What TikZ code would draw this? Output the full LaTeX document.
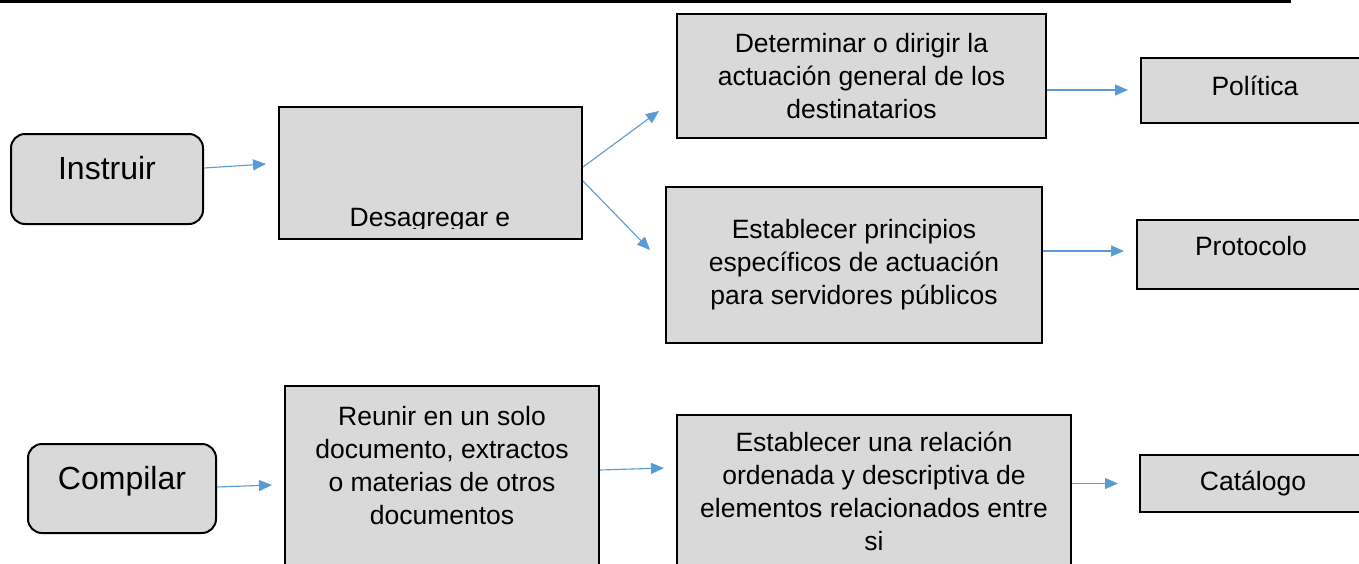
\documentclass[tikz,border=0pt]{standalone}
\usepackage{fontspec}
\setmainfont{Liberation Sans}
\usetikzlibrary{arrows.meta}
\definecolor{boxfill}{HTML}{D9D9D9}
\definecolor{arrblue}{HTML}{5B9BD5}
\tikzset{
  x=1pt, y=1pt,
  box/.style={draw=black, line width=2pt, fill=boxfill, inner sep=0pt, align=center,
    font=\fontsize{26.5}{33}\selectfont},
  rbox/.style={box, rounded corners=14pt, font=\fontsize{32}{36}\selectfont},
  arr/.style={draw=arrblue, line width=1.1pt, -{Triangle[length=13pt,width=11pt]}},
  lbl/.style={inner sep=0pt, font=\fontsize{26.5}{33}\selectfont}
}
\begin{document}
\begin{tikzpicture}
\clip (0,0) rectangle (1359,-563);
\fill[white] (0,0) rectangle (1359,-563);
\coordinate (tl) at (0,-1.5);
\coordinate (tr) at (1291,-1.5);
\draw[line width=3pt, black] (tl) -- (tr);

% nodes
\node[rbox, minimum width=192, minimum height=90] (instr) at (107,-179) {\raisebox{23pt}{Instruir}};
\node[box, minimum width=303, minimum height=132] (desag) at (430.5,-173) {};
\begin{scope}
\clip (279,-228) rectangle (582,-107);
\node[lbl, anchor=base] (desagt) at (430,-226) {Desagregar e};
\end{scope}
\node[box, minimum width=369, minimum height=124] (deter) at (861.5,-76)
  {Determinar o dirigir la\\actuación general de los\\destinatarios};
\node[box, minimum width=260, minimum height=65, anchor=west] (poli) at (1140,-90.5) {\hspace*{-32pt}\raisebox{10pt}{Política}};
\node[box, minimum width=376, minimum height=156] (estab) at (854,-265)
  {\raisebox{28pt}{\parbox{370pt}{\centering Establecer principios\\específicos de actuación\\para servidores públicos}}};
\node[box, minimum width=260, minimum height=69, anchor=west] (proto) at (1136,-254.5) {\hspace*{-32pt}\raisebox{17pt}{Protocolo}};

\node[rbox, minimum width=188, minimum height=89] (compi) at (122,-488.5) {\raisebox{22pt}{Compilar}};
\node[box, minimum width=314, minimum height=220, anchor=north] (reun) at (442,-385)
  {\raisebox{114pt}{\parbox{310pt}{\centering Reunir en un solo\\documento, extractos\\o materias de otros\\documentos}}};
\node[box, minimum width=394, minimum height=200, anchor=north] (rela) at (874,-414)
  {\raisebox{101pt}{\parbox{390pt}{\centering Establecer una relación\\ordenada y descriptiva de\\elementos relacionados entre\\si}}};
\node[box, minimum width=260, minimum height=57, anchor=west] (cata) at (1139,-483.5) {\hspace*{-34pt}Catálogo};

% connectors
\draw[arr] ([yshift=11pt]instr.east) -- ([xshift=-12pt,yshift=9pt]desag.west);
\draw[arr] ([yshift=6pt]desag.east) -- ([xshift=-17pt,yshift=-35pt]deter.west);
\draw[arr] ([yshift=-8pt]desag.east) -- ([xshift=-15pt,yshift=15pt]estab.west);
\draw[arr] ([yshift=-14pt]deter.east) -- ([xshift=-12pt,yshift=-14pt]deter.east -| poli.west);
\draw[arr] ([yshift=14pt]estab.east) -- ([xshift=-12pt,yshift=14pt]estab.east -| proto.west);
\draw[arr] ([yshift=1.5pt]compi.east) -- ([xshift=-12pt,yshift=3.5pt]compi.east -| reun.west);
\draw[arr] ([yshift=26pt]reun.east) -- ([xshift=-12pt,yshift=28pt]reun.east -| rela.west);
\draw[arr] (rela.east |- cata.west) -- ([xshift=-21pt]cata.west);
\end{tikzpicture}
\end{document}
